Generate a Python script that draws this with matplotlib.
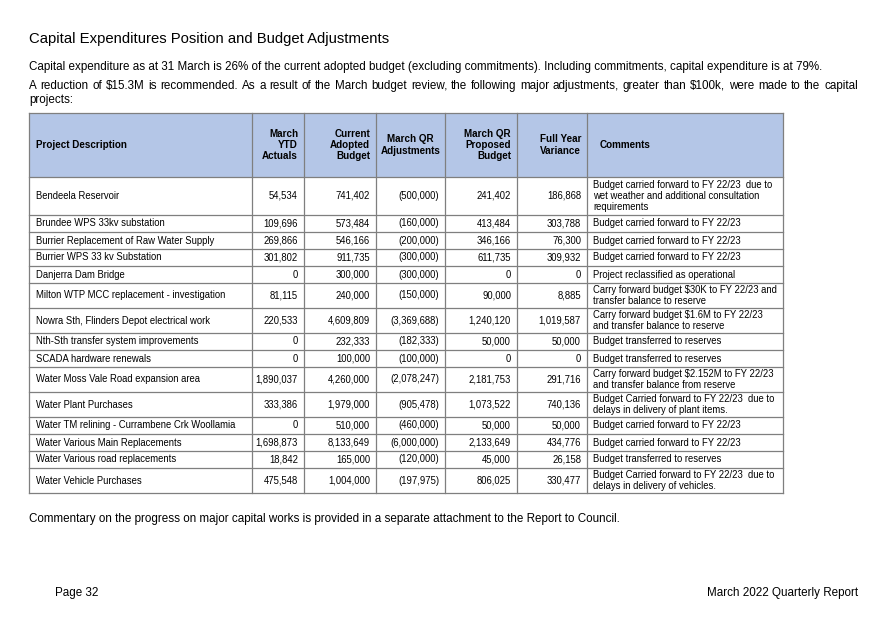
import matplotlib.pyplot as plt
from matplotlib.patches import Rectangle

plt.rcParams['font.family'] = ['Liberation Sans', 'DejaVu Sans']

# table data
projects = [
    "Bendeela Reservoir",
    "Brundee WPS 33kv substation",
    "Burrier Replacement of Raw Water Supply",
    "Burrier WPS 33 kv Substation",
    "Danjerra Dam Bridge",
    "Milton WTP MCC replacement - investigation",
    "Nowra Sth, Flinders Depot electrical work",
    "Nth-Sth transfer system improvements",
    "SCADA hardware renewals",
    "Water Moss Vale Road expansion area",
    "Water Plant Purchases",
    "Water TM relining - Currambene Crk Woollamia",
    "Water Various Main Replacements",
    "Water Various road replacements",
    "Water Vehicle Purchases",
]
ytd_actuals = [54534, 109696, 269866, 301802, 0, 81115, 220533, 0, 0,
               1890037, 333386, 0, 1698873, 18842, 475548]
adopted_budget = [741402, 573484, 546166, 911735, 300000, 240000, 4609809, 232333,
                  100000, 4260000, 1979000, 510000, 8133649, 165000, 1004000]
qr_adjustments = [-500000, -160000, -200000, -300000, -300000, -150000, -3369688,
                  -182333, -100000, -2078247, -905478, -460000, -6000000, -120000, -197975]
proposed_budget = [241402, 413484, 346166, 611735, 0, 90000, 1240120, 50000, 0,
                   2181753, 1073522, 50000, 2133649, 45000, 806025]
full_year_variance = [186868, 303788, 76300, 309932, 0, 8885, 1019587, 50000, 0,
                      291716, 740136, 50000, 434776, 26158, 330477]
comments = [
    "Budget carried forward to FY 22/23  due to\nwet weather and additional consultation\nrequirements",
    "Budget carried forward to FY 22/23",
    "Budget carried forward to FY 22/23",
    "Budget carried forward to FY 22/23",
    "Project reclassified as operational",
    "Carry forward budget \\$30K to FY 22/23 and\ntransfer balance to reserve",
    "Carry forward budget \\$1.6M to FY 22/23\nand transfer balance to reserve",
    "Budget transferred to reserves",
    "Budget transferred to reserves",
    "Carry forward budget \\$2.152M to FY 22/23\nand transfer balance from reserve",
    "Budget Carried forward to FY 22/23  due to\ndelays in delivery of plant items.",
    "Budget carried forward to FY 22/23",
    "Budget carried forward to FY 22/23",
    "Budget transferred to reserves",
    "Budget Carried forward to FY 22/23  due to\ndelays in delivery of vehicles.",
]
headers = ["Project Description", "March\nYTD\nActuals", "Current\nAdopted\nBudget",
           "March QR\nAdjustments", "March QR\nProposed\nBudget", "Full Year\nVariance",
           "Comments"]


def fmt(v):
    if v < 0:
        return "({:,})".format(-v)
    return "{:,}".format(v)


fig = plt.figure(figsize=(8.88, 6.28), dpi=100)
ax = fig.add_axes([0, 0, 1, 1])
ax.set_xlim(0, 888)
ax.set_ylim(628, 0)
ax.axis("off")
renderer = fig.canvas.get_renderer()


def justified(x0, x1, yy, line, size):
    # place words one by one so the line fills x0..x1
    words = line.split(" ")
    objs = [ax.text(0, yy, w, fontsize=size, va="center") for w in words]
    widths = [o.get_window_extent(renderer).width for o in objs]
    gap = (x1 - x0 - sum(widths)) / (len(words) - 1)
    x = x0
    for o, w in zip(objs, widths):
        o.set_x(x)
        x += w + gap


# page text
body = 8.35
ax.text(29, 39, "Capital Expenditures Position and Budget Adjustments",
        fontsize=10.7, va="center")
ax.text(29, 67, "Capital expenditure as at 31 March is 26% of the current adopted budget "
        "(excluding commitments). Including commitments, capital expenditure is at 79%.",
        fontsize=body, va="center")
justified(29, 858, 86, "A reduction of \\$15.3M is recommended. As a result of the March budget review, "
          "the following major adjustments, greater than \\$100k, were made to the capital", body)
ax.text(29, 100, "projects:", fontsize=body, va="center")
ax.text(29, 519, "Commentary on the progress on major capital works is provided in a separate "
        "attachment to the Report to Council.", fontsize=body, va="center")
ax.text(55, 593, "Page 32", fontsize=body, va="center")
ax.text(858, 593, "March 2022 Quarterly Report", fontsize=body, va="center", ha="right")

# table layout
col_x = [29, 252, 304, 376, 445, 517, 587, 783]
top, head_h = 113, 64
row_h = {1: 17, 2: 25, 3: 38}
grid = "#7f7f7f"
fs = 6.85
hfs = 7.1

ax.add_patch(Rectangle((col_x[0], top), col_x[-1] - col_x[0], head_h,
                       facecolor="#b4c6e7", edgecolor="none"))
hy = top + head_h / 2
ax.text(col_x[0] + 7, hy, headers[0], fontsize=hfs, weight="bold", va="center")
for i in range(1, 6):
    ha = "center" if i == 3 else "right"
    x = (col_x[i] + col_x[i + 1]) / 2 if i == 3 else col_x[i + 1] - 6
    ax.text(x, hy, headers[i], fontsize=hfs, weight="bold", va="center", ha=ha,
            multialignment=ha, linespacing=1.15)
ax.text(col_x[6] + 13, hy, headers[6], fontsize=hfs, weight="bold", va="center")

y = top + head_h
lines_y = [top, y]
for k in range(len(projects)):
    h = row_h[comments[k].count("\n") + 1]
    cy = y + h / 2
    ax.text(col_x[0] + 7, cy, projects[k], fontsize=fs, va="center")
    vals = [ytd_actuals[k], adopted_budget[k], qr_adjustments[k],
            proposed_budget[k], full_year_variance[k]]
    for j, v in enumerate(vals):
        ax.text(col_x[j + 2] - 6, cy, fmt(v), fontsize=fs, va="center", ha="right")
    ax.text(col_x[6] + 6, cy, comments[k], fontsize=fs, va="center", linespacing=1.12)
    y += h
    lines_y.append(y)

for yy in lines_y:
    ax.plot([col_x[0], col_x[-1]], [yy, yy], color=grid, lw=0.9)
for xx in col_x:
    ax.plot([xx, xx], [top, y], color=grid, lw=0.9)

fig.savefig("out.png", dpi=100, facecolor="white")
